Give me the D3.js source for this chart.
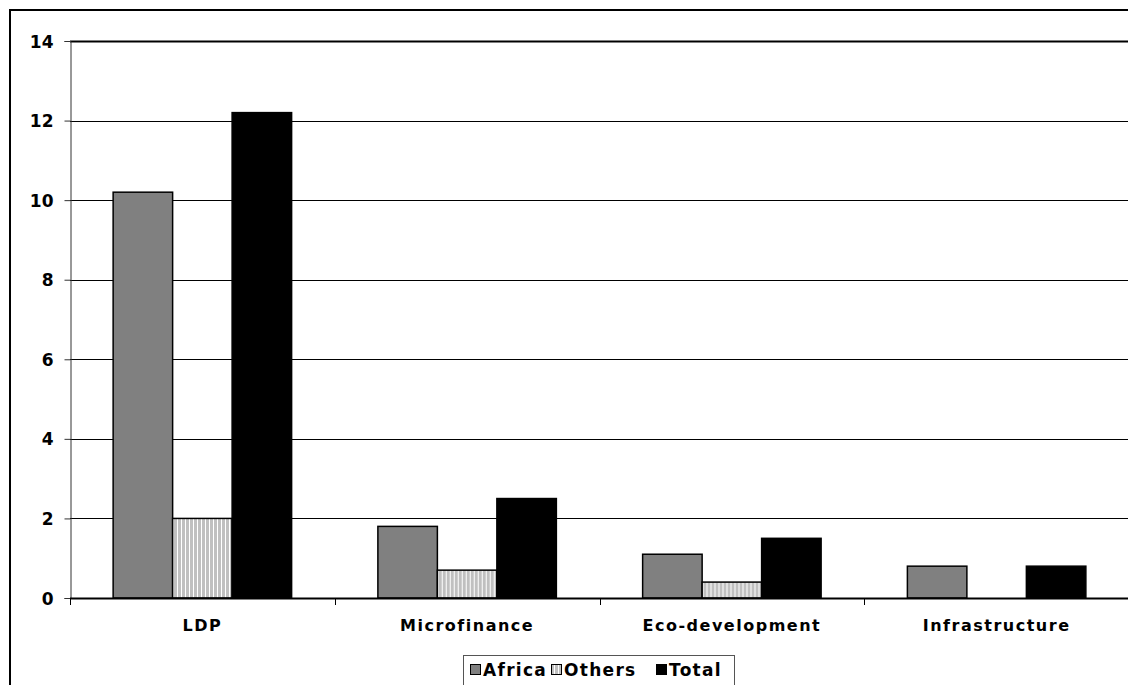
<!DOCTYPE html>
<html>
<head>
<meta charset="utf-8">
<script src="https://cdn.jsdelivr.net/npm/d3@7"></script>
<style>
  html, body { margin: 0; padding: 0; background: #fff; overflow: hidden; }
  svg { display: block; overflow: hidden; }
  text { font-family: "DejaVu Sans", Verdana, sans-serif; font-weight: bold; fill: #000; }
</style>
</head>
<body>
<svg id="chart" width="1128" height="685"></svg>
<script>
// Expenditure by project type, split by region
const categories = ["LDP", "Microfinance", "Eco-development", "Infrastructure"];
const seriesNames = ["Africa", "Others", "Total"];
const africa = [10.2, 1.8, 1.1, 0.8];
const others = [2.0, 0.7, 0.4, 0.0];
const total = [12.2, 2.5, 1.5, 0.8];
const yTicks = [0, 2, 4, 6, 8, 10, 12, 14];

const seriesValues = { Africa: africa, Others: others, Total: total };

const svg = d3.select("#chart");
const W = 1128, H = 685;

// Plot area
const plot = { left: 70, right: 1129, top: 41, bottom: 598 };

const defs = svg.append("defs");
const pat = defs.append("pattern")
  .attr("id", "vstripes")
  .attr("patternUnits", "userSpaceOnUse")
  .attr("width", 4).attr("height", 4);
pat.append("rect").attr("width", 4).attr("height", 4).attr("fill", "#c0c0c0");
pat.append("rect").attr("x", 3).attr("width", 1).attr("height", 4).attr("fill", "#ffffff");

const fills = { Africa: "#808080", Others: "url(#vstripes)", Total: "#000000" };
const swatchFills = { Africa: "#808080", Others: "#c0c0c0", Total: "#000000" };

const x0 = d3.scaleBand().domain(categories).range([plot.left, plot.right]).padding(0);
const x1 = d3.scaleBand().domain(seriesNames).range([0, x0.bandwidth()])
  .paddingInner(0).paddingOuter(0.725);
const y = d3.scaleLinear().domain([0, 14]).range([plot.bottom, plot.top]);

// Outer chart frame (only its left and top edges fall inside the page)
svg.append("path")
  .attr("d", `M10,${H + 5}V10H${W + 5}`)
  .attr("fill", "none").attr("stroke", "#000").attr("stroke-width", 2);

// Horizontal gridlines
svg.append("g").selectAll("line")
  .data(yTicks.filter(t => t > 0))
  .join("line")
  .attr("x1", plot.left).attr("x2", plot.right)
  .attr("y1", d => Math.round(y(d)) + 0.5).attr("y2", d => Math.round(y(d)) + 0.5)
  .attr("stroke", "#000")
  .attr("stroke-width", d => d === 14 ? 2 : 1);

// Bars
const groups = svg.append("g").selectAll("g")
  .data(categories)
  .join("g")
  .attr("transform", d => `translate(${x0(d)},0)`);

groups.selectAll("rect")
  .data((c, i) => seriesNames.map(s => ({ s, v: seriesValues[s][i] })).filter(d => d.v > 0))
  .join("rect")
  .attr("x", d => x1(d.s))
  .attr("y", d => y(d.v))
  .attr("width", x1.bandwidth())
  .attr("height", d => y(0) - y(d.v))
  .attr("fill", d => fills[d.s])
  .attr("stroke", "#000")
  .attr("stroke-width", 1.5);

// Y axis
const yAxis = d3.axisLeft(y).tickValues(yTicks).tickSize(6).tickPadding(11).tickFormat(d3.format("d"));
const ya = svg.append("g").attr("transform", `translate(${plot.left + 0.5},0)`).call(yAxis);
ya.select(".domain").attr("stroke", "#333");
ya.selectAll(".tick line").attr("stroke", "#333");
ya.selectAll(".tick text").style("font-size", "17px").attr("dy", "0.36em");

// X axis
const xAxis = d3.axisBottom(x0).tickSize(0).tickPadding(22);
const xa = svg.append("g").attr("transform", `translate(0,${plot.bottom})`).call(xAxis);
xa.select(".domain").remove();
xa.selectAll(".tick text").style("font-size", "16px").style("letter-spacing", "1.5px").attr("dy", "0.71em");
svg.append("line")
  .attr("x1", plot.left).attr("x2", plot.right)
  .attr("y1", plot.bottom + 0.5).attr("y2", plot.bottom + 0.5)
  .attr("stroke", "#000").attr("stroke-width", 2);
// Category separator ticks
svg.append("g").selectAll("line")
  .data(categories.concat([null]))
  .join("line")
  .attr("x1", (d, i) => Math.round(plot.left + i * x0.step()) + 0.5)
  .attr("x2", (d, i) => Math.round(plot.left + i * x0.step()) + 0.5)
  .attr("y1", plot.bottom).attr("y2", plot.bottom + 7)
  .attr("stroke", "#000");

// Legend
const legend = svg.append("g");
legend.append("rect")
  .attr("x", 463.5).attr("y", 655.5).attr("width", 271).attr("height", 30)
  .attr("fill", "#fff").attr("stroke", "#555").attr("stroke-width", 1);
const legendX = [470, 551, 656];
seriesNames.forEach((s, i) => {
  const g = legend.append("g").attr("transform", `translate(${legendX[i]},0)`);
  g.append("rect")
    .attr("x", 0.5).attr("y", 664.5).attr("width", 10).attr("height", 10)
    .attr("fill", s === "Others" ? "url(#vstripes)" : swatchFills[s])
    .attr("stroke", "#000");
  g.append("text")
    .attr("x", 13).attr("y", 676)
    .style("font-size", "17px")
    .style("letter-spacing", "1.3px")
    .text(s);
});
</script>
</body>
</html>
